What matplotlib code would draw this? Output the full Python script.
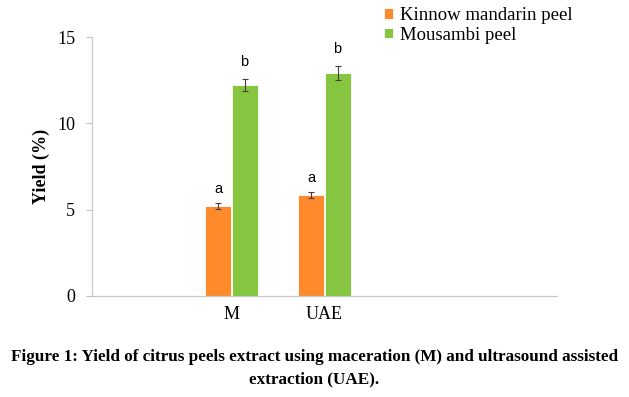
import matplotlib
matplotlib.use("Agg")
from matplotlib import pyplot as plt
import numpy as np

# data
categories = ["", "M", "UAE", "", ""]
kinnow = [5.2, 5.85]
kinnow_err = [0.18, 0.2]
mousambi = [12.22, 12.92]
mousambi_err = [0.35, 0.4]
kinnow_letters = ["a", "a"]
mousambi_letters = ["b", "b"]
series_names = ["Kinnow mandarin peel", "Mousambi peel"]

orange = "#FF8A2B"
green = "#86C540"
serif = ["Liberation Serif", "DejaVu Serif"]
sans = ["Liberation Sans", "DejaVu Sans"]

fig = plt.figure(figsize=(6.29, 3.97), dpi=100)
ax = fig.add_axes([92 / 629, 1 - 296 / 397, 465 / 629, 259 / 397])

pos = np.array([1, 2])
w = 0.28
ekw = dict(ecolor="#404040", elinewidth=0.8, capthick=0.8)
b1 = ax.bar(pos - w / 2 - 0.005, kinnow, width=w, color=orange, edgecolor="white",
            linewidth=0.6, yerr=kinnow_err, capsize=2, error_kw=ekw)
b2 = ax.bar(pos + w / 2 + 0.005, mousambi, width=w, color=green, edgecolor="white",
            linewidth=0.6, yerr=mousambi_err, capsize=2, error_kw=ekw)

for x, v, e, t in zip(pos - w / 2, kinnow, kinnow_err, kinnow_letters):
    ax.text(x, v + e + 0.4, t, ha="center", va="bottom", fontsize=10.5, family=sans)
for x, v, e, t in zip(pos + w / 2, mousambi, mousambi_err, mousambi_letters):
    ax.text(x, v + e + 0.6, t, ha="center", va="bottom", fontsize=10.5, family=sans)

ax.set_xlim(-0.5, 4.5)
ax.set_ylim(0, 15)
ax.set_yticks([0, 5, 10, 15])
ax.set_xticks(range(len(categories)))
ax.set_xticklabels(categories, family=serif, fontsize=13)
ax.tick_params(axis="x", length=0, pad=7)
ax.tick_params(axis="y", length=4, color="#BFBFBF", width=0.8, pad=8, labelsize=13)
for lab in ax.get_yticklabels():
    lab.set_family(serif)

for s in ["top", "right"]:
    ax.spines[s].set_visible(False)
for s in ["left", "bottom"]:
    ax.spines[s].set_color("#C8C8C8")
    ax.spines[s].set_linewidth(0.9)

ax.set_ylabel("Yield (%)", family=serif, fontweight="bold", fontsize=13, labelpad=5)

fig.legend([b1, b2], series_names, loc="upper left", bbox_to_anchor=(367 / 629, 1.025),
           frameon=False, prop=dict(family=serif, size=13.5), handlelength=0.5,
           handleheight=0.5, handletextpad=0.35, labelspacing=0.15)

fig.text(0.5, 1 - 357 / 397, "Figure 1: Yield of citrus peels extract using maceration (M) and ultrasound assisted",
         ha="center", va="center", family=serif, fontweight="bold", fontsize=12.3)
fig.text(0.5, 1 - 379 / 397, "extraction (UAE).", ha="center", va="center",
         family=serif, fontweight="bold", fontsize=12.3)

fig.savefig("out.png", dpi=100)
